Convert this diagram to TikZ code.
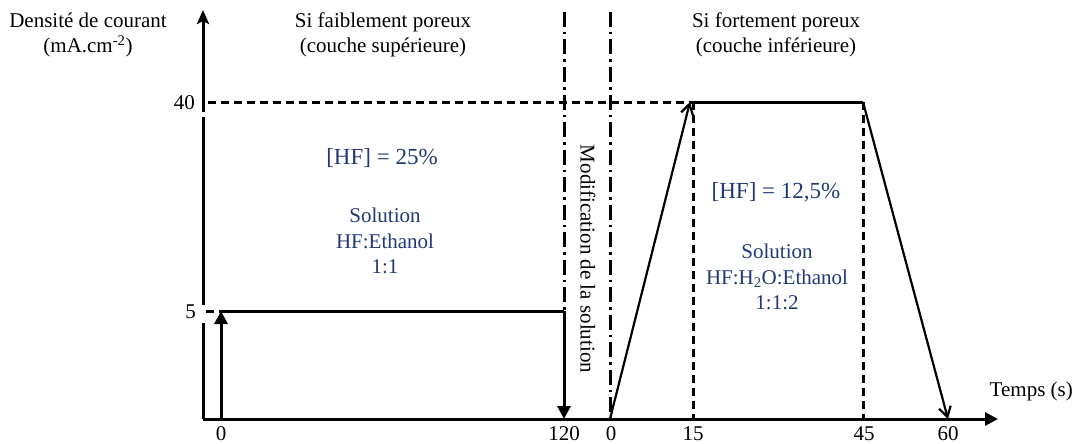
\documentclass[tikz,border=0pt]{standalone}
\usepackage{fontspec}
\setmainfont{Liberation Serif}
\usetikzlibrary{arrows.meta}
\definecolor{hfblue}{RGB}{32,56,118}
\begin{document}
\begin{tikzpicture}[x=1pt,y=-1pt,
  txt/.style={font=\fontsize{21}{25.5}\selectfont, inner sep=0pt, align=center},
  tick/.style={font=\fontsize{21}{25.5}\selectfont, inner sep=0pt, anchor=base},
  btxt/.style={txt, text=hfblue},
  bigb/.style={btxt, font=\fontsize{23}{27}\selectfont},
  axis/.style={line width=3pt, -{Stealth[length=14pt,width=12pt,inset=3pt]}},
  solid/.style={line width=3pt},
  bar/.style={line width=3pt, -{Triangle[length=13pt,width=13pt]}},
  xaxis/.style={line width=3pt, -{Triangle[length=13pt,width=13pt]}},
  slant/.style={line width=2.2pt, -{Straight Barb[length=10pt,width=12pt,line width=2.2pt]}},
  dsh/.style={line width=3pt, dash pattern=on 8pt off 5pt},
  dshdot/.style={line width=3pt, dash pattern=on 15pt off 5pt on 2.5pt off 5pt},
  gap/.style={fill=white, draw=none}]
\useasboundingbox (0,0) rectangle (1076,444);
% key points
\coordinate (O) at (203,419);
\coordinate (Ytop) at (203,10);
\coordinate (Xend) at (998,419);
\coordinate (a0) at (221,419);
\coordinate (a5) at (221,311);
\coordinate (b5) at (564,311);
\coordinate (b0) at (564,419);
\coordinate (m1t) at (564,12);
\coordinate (m2t) at (610,12);
\coordinate (m2b) at (610,419);
\coordinate (c0) at (610,419);
\coordinate (c40) at (690,102);
\coordinate (d40) at (863,102);
\coordinate (d15) at (693,102);
\coordinate (d15b) at (693,419);
\coordinate (d45b) at (863,419);
\coordinate (e0) at (948,419);
\coordinate (y40) at (208,102);
\coordinate (y5) at (206,311);
% guides
\draw[dsh] (y40) -- (c40);
\draw[dsh] (y5) -- (a5);
\draw[dsh] (d15) -- (d15b);
\draw[dsh] (d40) -- (d45b);
\draw[dshdot] (m1t) -- (b5);
\draw[dshdot] (m2t) -- (m2b);
% axes
\draw[axis] (O) -- (Ytop);
\draw[xaxis] (O) -- (Xend);
% small breaks in the vertical axis beside the labels
\fill[gap] (200,305) rectangle (206,323);
\fill[gap] (200,112) rectangle (206,117);
% first profile
\draw[bar] (a0) -- (a5);
\draw[solid] (a5) -- (b5);
\draw[bar] (b5) -- (b0);
% second profile
\draw[slant] (c0) -- (c40);
\draw[solid] (c40) -- (d40);
\draw[slant] (d40) -- (e0);
% labels
\node[txt] (ylab) at (88,35) {Densité de courant\\(mA.cm\textsuperscript{-2})};
\node[txt] (t1) at (383,35) {Si faiblement poreux\\(couche supérieure)};
\node[txt] (t2) at (776,35) {Si fortement poreux\\(couche inférieure)};
\node[tick, anchor=base east] (l40) at (195,109) {40};
\node[tick, anchor=base east] (l5) at (196,318) {5};
\node[bigb] (hf1) at (382,158) {[HF] = 25\%};
\node[btxt] (s1) at (385,241) {Solution\\HF:Ethanol\\1:1};
\node[txt, rotate=-90] (mod) at (588,259) {Modification de la solution};
\node[bigb] (hf2) at (776,192) {[HF] = 12,5\%};
\node[btxt] (s2) at (777,277) {Solution\\HF:H\textsubscript{2}O:Ethanol\\1:1:2};
\node[txt, anchor=east] (tps) at (1073,391) {Temps (s)};
\node[tick] (x0) at (221,440) {0};
\node[tick] (x120) at (564,440) {120};
\node[tick] (x0b) at (611,440) {0};
\node[tick] (x15) at (693,440) {15};
\node[tick] (x45) at (864,440) {45};
\node[tick] (x60) at (948,440) {60};
\end{tikzpicture}
\end{document}
